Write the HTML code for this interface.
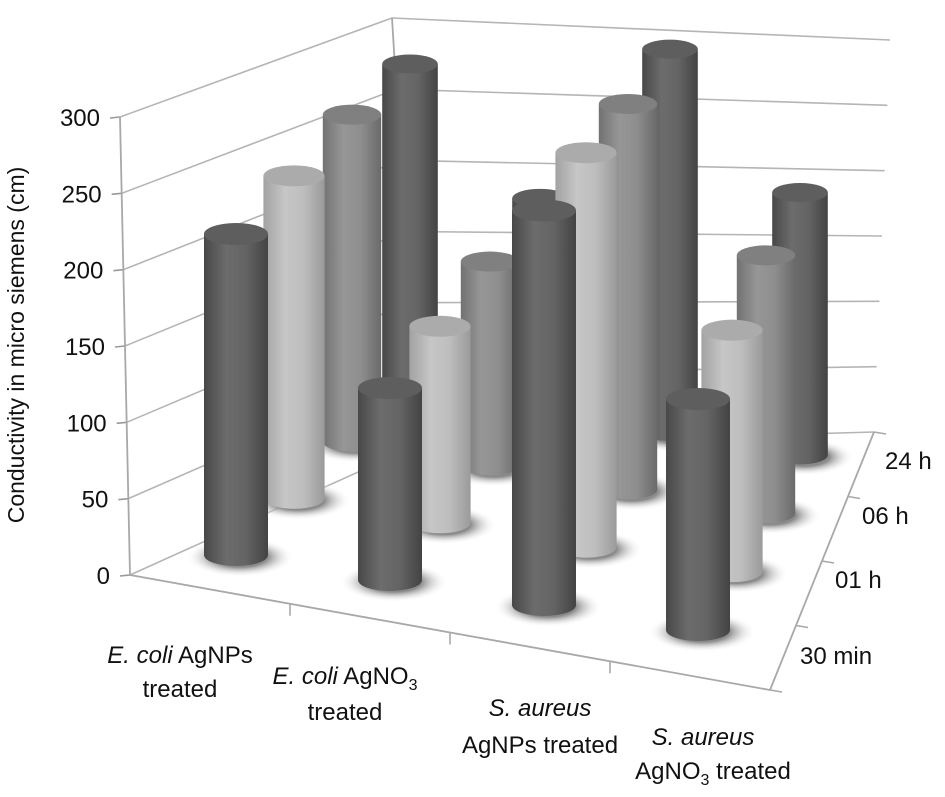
<!DOCTYPE html>
<html><head><meta charset="utf-8"><style>
html,body{margin:0;padding:0;background:#fff;}
svg{display:block;font-family:"Liberation Sans",Arial,sans-serif;}
</style></head><body>
<svg id="chart" width="945" height="797" viewBox="0 0 945 797" xmlns="http://www.w3.org/2000/svg">
<defs>
<linearGradient id="gDark" x1="0" x2="1" y1="0" y2="0"><stop offset="0" stop-color="#484848"/><stop offset="0.35" stop-color="#6c6c6c"/><stop offset="0.65" stop-color="#646464"/><stop offset="1" stop-color="#434343"/></linearGradient>
<linearGradient id="gLight" x1="0" x2="1" y1="0" y2="0"><stop offset="0" stop-color="#a2a2a2"/><stop offset="0.35" stop-color="#c6c6c6"/><stop offset="0.65" stop-color="#bebebe"/><stop offset="1" stop-color="#9a9a9a"/></linearGradient>
<linearGradient id="gMid" x1="0" x2="1" y1="0" y2="0"><stop offset="0" stop-color="#727272"/><stop offset="0.35" stop-color="#969696"/><stop offset="0.65" stop-color="#8e8e8e"/><stop offset="1" stop-color="#6a6a6a"/></linearGradient>
<radialGradient id="gShadow"><stop offset="0.5" stop-color="#8a8a8a"/><stop offset="1" stop-color="#fff" stop-opacity="0"/></radialGradient>
</defs>
<g id="grid"></g>
<g id="bars"></g>
<g id="labels"></g>
</svg>
<script>
const categories = ["E. coli AgNPs treated","E. coli AgNO3 treated","S. aureus AgNPs treated","S. aureus AgNO3 treated"];
const times = ["30 min","01 h","06 h","24 h"];
const yTicks = [0,50,100,150,200,250,300];
// values[category][time]
const ecoliAgNPs = [214,215,218,214];
const ecoliAgNO3 = [128,131,136,140];
const saureusAgNPs = [263,263,257,255];
const saureusAgNO3 = [154,161,172,175];
const values = [ecoliAgNPs, ecoliAgNO3, saureusAgNPs, saureusAgNO3];

const NS = "http://www.w3.org/2000/svg";
function mk(tag, attrs, parent){const e=document.createElementNS(NS,tag);for(const k in attrs)e.setAttribute(k,attrs[k]);parent.appendChild(e);return e;}
const grid=document.getElementById('grid'), bars=document.getElementById('bars'), labels=document.getElementById('labels');

const FL={x:130,y:575}, FLT={x:120,y:117};
const BL={x:418,y:445}, BLT={x:392,y:18};
const BR={x:874,y:432}, BRT={x:890,y:40};
const FR={x:770,y:690};
function lerp(a,b,t){return {x:a.x+(b.x-a.x)*t,y:a.y+(b.y-a.y)*t};}
const ymax=300;
yTicks.forEach(v=>{
  const t=v/ymax;
  const f=lerp(FL,FLT,t), b=lerp(BL,BLT,t), r=lerp(BR,BRT,t);
  const l1=mk('polyline',{points:`${f.x},${f.y} ${b.x},${b.y} ${r.x},${r.y}`,fill:'none',stroke:'#b5b5b5','stroke-width':1.6},grid);
  
  
  const tk=mk('line',{x1:f.x-10,y1:f.y+1,x2:f.x,y2:f.y,stroke:'#999','stroke-width':1.6},grid);
  
  
  const tx=mk('text',{x:f.x-20,y:f.y+9,'text-anchor':'end','font-size':24,fill:'#111'},labels);
  tx.textContent=v;
  
  
});
[[FL,FLT],[BL,BLT],[FL,FR],[FR,BR]].forEach(([a,b])=>{
  const l=mk('line',{x1:a.x,y1:a.y,x2:b.x,y2:b.y,stroke:'#a8a8a8','stroke-width':1.8},grid);
  
  
});
for(let i=1;i<4;i++){const p=lerp(FL,FR,i/4);
  const l=mk('line',{x1:p.x,y1:p.y,x2:p.x,y2:p.y+12,stroke:'#a8a8a8','stroke-width':1.6},grid);
  
  }
for(let j=0;j<=4;j++){const p=lerp(FR,BR,j/4);
  const l=mk('line',{x1:p.x,y1:p.y,x2:p.x+12,y2:p.y+2,stroke:'#a8a8a8','stroke-width':1.6},grid);
  
  }

const C00={x:236,y:555},C30={x:698,y:630},C03={x:410,y:385},C33={x:800,y:455};
function base(i,j){const a=lerp(C00,C30,i/3), b=lerp(C03,C33,i/3);return lerp(a,b,j/3);}
function scaleY(j){return 1.5;}
const fills=['url(#gDark)','url(#gLight)','url(#gMid)','url(#gDark)'];
const tops=['#5e5e5e','#ababab','#808080','#5e5e5e'];
for(let j=3;j>=0;j--){
  for(let i=0;i<4;i++){
    const p=base(i,j), h=values[i][j]*scaleY(j);
    const rx=32-j*1.4, ry=11-j*0.5;
    const g=mk('g',{},bars);
    
    
    mk('ellipse',{cx:p.x+4,cy:p.y+2,rx:rx+22,ry:ry+9,fill:'url(#gShadow)'},g);
    mk('path',{d:`M${p.x-rx},${p.y-h} L${p.x-rx},${p.y} A${rx},${ry} 0 0 0 ${p.x+rx},${p.y} L${p.x+rx},${p.y-h} Z`,fill:fills[j]},g);
    mk('ellipse',{cx:p.x,cy:p.y-h,rx:rx,ry:ry,fill:tops[j]},g);
  }
}
const catLines=[[["E. coli"," AgNPs"],["treated"]],[["E. coli"," AgNO","3"],["treated"]],[["S. aureus"],["AgNPs treated"]],[["S. aureus"],["AgNO","3"," treated"]]];
const catPos=[[180,663,180,697],[345,684,345,720],[540,716,540,753],[703,745,713,779]];
catLines.forEach((ls,i)=>{
  [0,1].forEach(k=>{
    const t=mk('text',{x:catPos[i][k*2],y:catPos[i][k*2+1],'text-anchor':'middle','font-size':24,fill:'#111'},labels);
    
    
    ls[k].forEach((s,si)=>{const sp=mk('tspan',{},t);sp.textContent=s;
      if(s==='E. coli'||s==='S. aureus')sp.setAttribute('font-style','italic');
      if(s==='3'){sp.setAttribute('font-size',16);sp.setAttribute('dy',6);}
      if(si>0&&ls[k][si-1]==='3')sp.setAttribute('dy',-6);});
  });
});
const timePos=[[800,664],[835,588],[862,524],[885,469]];
times.forEach((s,j)=>{const t=mk('text',{x:timePos[j][0],y:timePos[j][1],'font-size':24,fill:'#111'},labels);t.textContent=s;
  
  });
const yt=mk('text',{x:0,y:0,transform:'translate(24,345) rotate(-90)','text-anchor':'middle','font-size':23,fill:'#111'},labels);
yt.textContent='Conductivity in micro siemens (cm)';


</script>
</body></html>
